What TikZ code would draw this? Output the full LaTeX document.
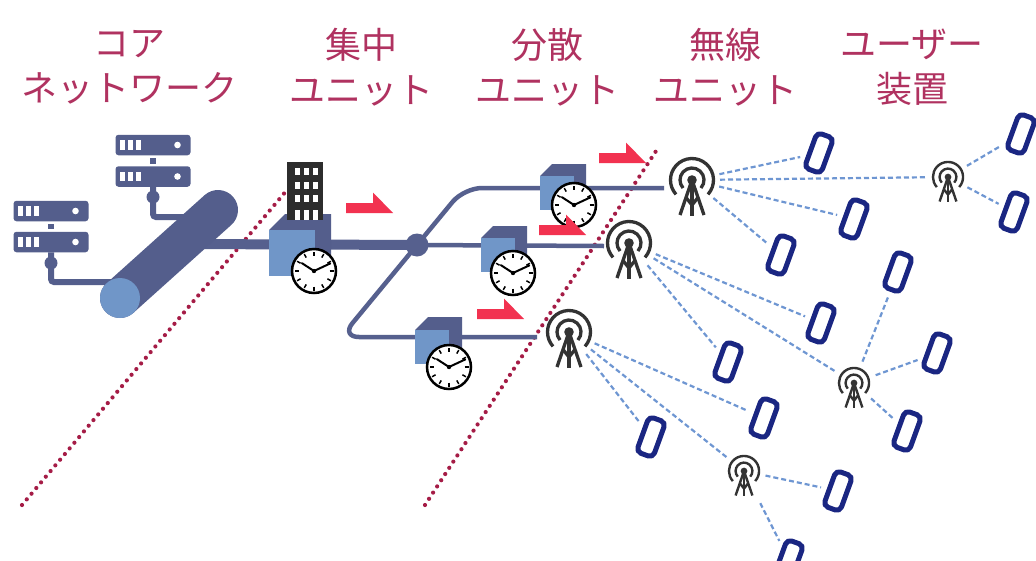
\documentclass[tikz,border=0pt]{standalone}
\usepackage{fontspec}
\newfontfamily\jpfont{Noto Sans CJK JP}
\definecolor{labelc}{RGB}{176,50,96}
\definecolor{dotc}{RGB}{165,28,70}
\definecolor{srv}{RGB}{84,94,140}
\definecolor{lightb}{RGB}{112,150,200}
\definecolor{fiber}{RGB}{86,96,142}
\definecolor{towerc}{RGB}{51,51,51}
\definecolor{linkc}{RGB}{110,150,210}
\definecolor{navy}{RGB}{26,38,130}
\definecolor{flagc}{RGB}{242,50,80}
\definecolor{bldg}{RGB}{45,45,45}

\tikzset{
  clock/.pic={
    \fill[white] (0,0) circle (22pt);
    \draw[black, line width=2.5pt] (0,0) circle (22pt);
    \foreach \a in {0,30,...,330}
      \draw[black, line width=1.5pt] (\a:15.5pt) -- (\a:19.5pt);
    \draw[black, line width=2pt, line cap=round] (147:14.5pt) -- (0,0) -- (25:18pt);
    \fill[black] (0,0) circle (2.2pt);
  },
  tower/.pic={
    \fill[towerc] (0,0) circle (4.8pt);
    \draw[towerc] (-42:12pt) arc[start angle=-42, end angle=222, radius=12pt];
    \draw[towerc] (-42:21.5pt) arc[start angle=-42, end angle=222, radius=21.5pt];
    \draw[towerc, line join=round] (-12pt,-35pt) -- (0,0) -- (12pt,-35pt);
    \draw[towerc] (0,0) -- (0pt,-36pt);
    \draw[towerc] (-6pt,-17.5pt) -- (0pt,-25pt) -- (6pt,-17.5pt);
  }
}

% cube: name, x, y of front top-left corner, size, depth offset
\newcommand\unitcube[5]{%
  \fill[srv] (#2,#3) -- ++(#5,-#5) -- ++(#4,0) -- ++(0,#4) -- ++(-#5,#5) -- cycle;
  \node[cubefront, minimum size=#4pt, anchor=north west] (#1) at (#2,#3) {};
}
% red direction flag: x, y of bottom-left corner
\newcommand\dirflag[2]{%
  \fill[flagc] (#1,#2) -- ++(0,-10) -- ++(27,0) -- ++(0,-10.5) -- ++(20,20.5) -- cycle;
}

\begin{document}
\begin{tikzpicture}[x=1pt,y=-1pt,
  lbl/.style={font=\jpfont\fontsize{36}{45}\selectfont, text=labelc, align=center, inner sep=0pt},
  border/.style={dotc, line width=4.2pt, line cap=round, dash pattern=on 0pt off 7.4pt},
  srvbox/.style={fill=srv, rounded corners=3pt, minimum width=75pt, minimum height=20.5pt,
    inner sep=0pt, outer sep=0pt,
    path picture={
      \foreach \dx in {6.8,14.8,22.8}
        \fill[white, sharp corners] ([xshift=\dx pt]path picture bounding box.west)
          ++(-2.5pt,-4.75pt) rectangle ++(5pt,9.5pt);
      \fill[white] ([xshift=-13pt]path picture bounding box.east) circle (3.3pt);
    }},
  srvwire/.style={srv, line width=6pt, rounded corners=3pt},
  trunk/.style={fiber, line width=10pt},
  branch/.style={fiber, line width=4.5pt, rounded corners=18pt},
  cubefront/.style={fill=lightb, inner sep=0pt, outer sep=0pt},
  hub/.style={circle, inner sep=0pt, outer sep=0pt},
  phone/.style={draw=navy, fill=white, line width=5pt, rounded corners=5pt,
    minimum width=17.5pt, minimum height=37.5pt, inner sep=0pt, rotate=-20},
  link/.style={linkc, line width=2.2pt, dash pattern=on 5pt off 3pt},
  tophone/.style={link, shorten >=6pt},
]
\fill[white] (0,0) rectangle (1036,560);
\useasboundingbox (0,0) rectangle (1036,560);

% column headings
\node[lbl] (h1) at (129,67.5) {コア\\ネットワーク};
\node[lbl] (h2) at (361,67.5) {集中\\ユニット};
\node[lbl] (h3) at (547,67.5) {分散\\ユニット};
\node[lbl] (h4) at (725,67.5) {無線\\ユニット};
\node[lbl] (h5) at (912,67.5) {ユーザー\\装置};

% boundary lines
\coordinate (b1s) at (22,505);
\coordinate (b1e) at (287,190);
\coordinate (b2s) at (425,505);
\coordinate (b2e) at (658,148);
\draw[border] (b1s) -- (b1e);
\draw[border] (b2s) -- (b2e);

% core network: servers and backbone
\node[srvbox] (s1a) at (153,145) {};
\node[srvbox] (s1b) at (153,176.5) {};
\node[srvbox] (s2a) at (51,211) {};
\node[srvbox] (s2b) at (51,242) {};
\draw[srv, line width=6pt] ([yshift=-3pt]s1a.south) -- ([yshift=2.5pt]s1b.north);
\draw[srv, line width=6pt] ([yshift=-3pt]s2a.south) -- ([yshift=2.5pt]s2b.north);
\coordinate (pin1) at (196,217);
\coordinate (pin2) at (128,282);
\draw[srvwire] (s1b.south) |- (pin1);
\draw[srvwire] (s2b.south) |- (pin2);
\fill[srv] (153,197) circle (6.5pt);
\fill[srv] (51,263) circle (6.5pt);

\coordinate (tin) at (190,244);
\coordinate (jc) at (417,245);
\draw[trunk] (tin) -- (jc);

\coordinate (pipeA) at (120,298);
\coordinate (pipeB) at (218,210);
\draw[srv, line width=40pt, line cap=round] (pipeA) -- (pipeB);
\fill[lightb] (pipeA) circle (20pt);

% fronthaul branches
\coordinate (f1) at (664,188);
\coordinate (f2) at (604,246);
\coordinate (f3) at (537,337);
\draw[branch] (jc) -- (464,188) -- (f1);
\draw[branch] (jc) -- (f2);
\draw[branch] (jc) -- (341,337) -- (f3);
\node[hub, fill=fiber, minimum size=23pt] (j) at (jc) {};

% central unit with building
\unitcube{cu}{269}{230}{46}{16}
\fill[bldg] (287,162) rectangle (323,220);
\foreach \wx in {295,304,313}{
  \foreach \wy in {168,181.5,195}
    \fill[white] (\wx,\wy) rectangle ++(4.5,7);
  \fill[white] (\wx,210) rectangle ++(4.5,10);
}

% distributed units
\unitcube{du1}{540}{176}{34}{12}
\unitcube{du2}{481}{238}{34}{12}
\unitcube{du3}{415}{330}{34}{13}

% clocks
\pic at (314,271) {clock};
\pic at (574,205) {clock};
\pic at (513,273) {clock};
\pic at (449,367) {clock};

% radio units and small cells
\node[hub, minimum size=56pt] (r1) at (692,180) {};
\node[hub, minimum size=58pt] (r2) at (629,243) {};
\node[hub, minimum size=56pt] (r3) at (569,332) {};
\node[hub, minimum size=44pt] (c1) at (948,177) {};
\node[hub, minimum size=46pt] (c2) at (854,383) {};
\node[hub, minimum size=44pt] (c3) at (744,471) {};
\pic[line width=3.3pt] at (r1) {tower};
\pic[line width=3.3pt] at (r2) {tower};
\pic[line width=3.3pt] at (r3) {tower};
\pic[line width=2.4pt, scale=0.7] at (c1) {tower};
\pic[line width=2.4pt, scale=0.7] at (c2) {tower};
\pic[line width=2.4pt, scale=0.7] at (c3) {tower};

% user devices
\node[phone] (p1) at (819,153) {};
\node[phone] (p2) at (854,219) {};
\node[phone] (p3) at (781,255) {};
\node[phone] (p4) at (898,272) {};
\node[phone] (p5) at (1021,134) {};
\node[phone] (p6) at (1014,212) {};
\node[phone] (p7) at (821,323) {};
\node[phone] (p8) at (728,362) {};
\node[phone] (p9) at (764,418) {};
\node[phone] (p10) at (651,437) {};
\node[phone] (p11) at (937,353) {};
\node[phone] (p12) at (907,431) {};
\node[phone] (p13) at (838,491) {};
\node[phone] (p14) at (789,560) {};

% radio links
\draw[tophone] (r1) -- (p1);
\draw[link] (r1) -- (c1);
\draw[tophone] (r1) -- (p2);
\draw[tophone] (r1) -- (p3);
\draw[tophone] (c1) -- (p5);
\draw[tophone] (c1) -- (p6);
\draw[tophone] (r2) -- (p7);
\draw[link] (r2) -- (c2);
\draw[tophone] (r2) -- (p8);
\draw[tophone] (r3) -- (p9);
\draw[link] (r3) -- (c3);
\draw[tophone] (r3) -- (p10);
\draw[tophone] (c2) -- (p4);
\draw[tophone] (c2) -- (p11);
\draw[tophone] (c2) -- (p12);
\draw[tophone] (c3) -- (p13);
\draw[tophone, shorten <=14pt] (c3) -- (p14);

% direction flags
\dirflag{346}{213}
\dirflag{599}{163}
\dirflag{539}{235}
\dirflag{477}{319}
\end{tikzpicture}
\end{document}
